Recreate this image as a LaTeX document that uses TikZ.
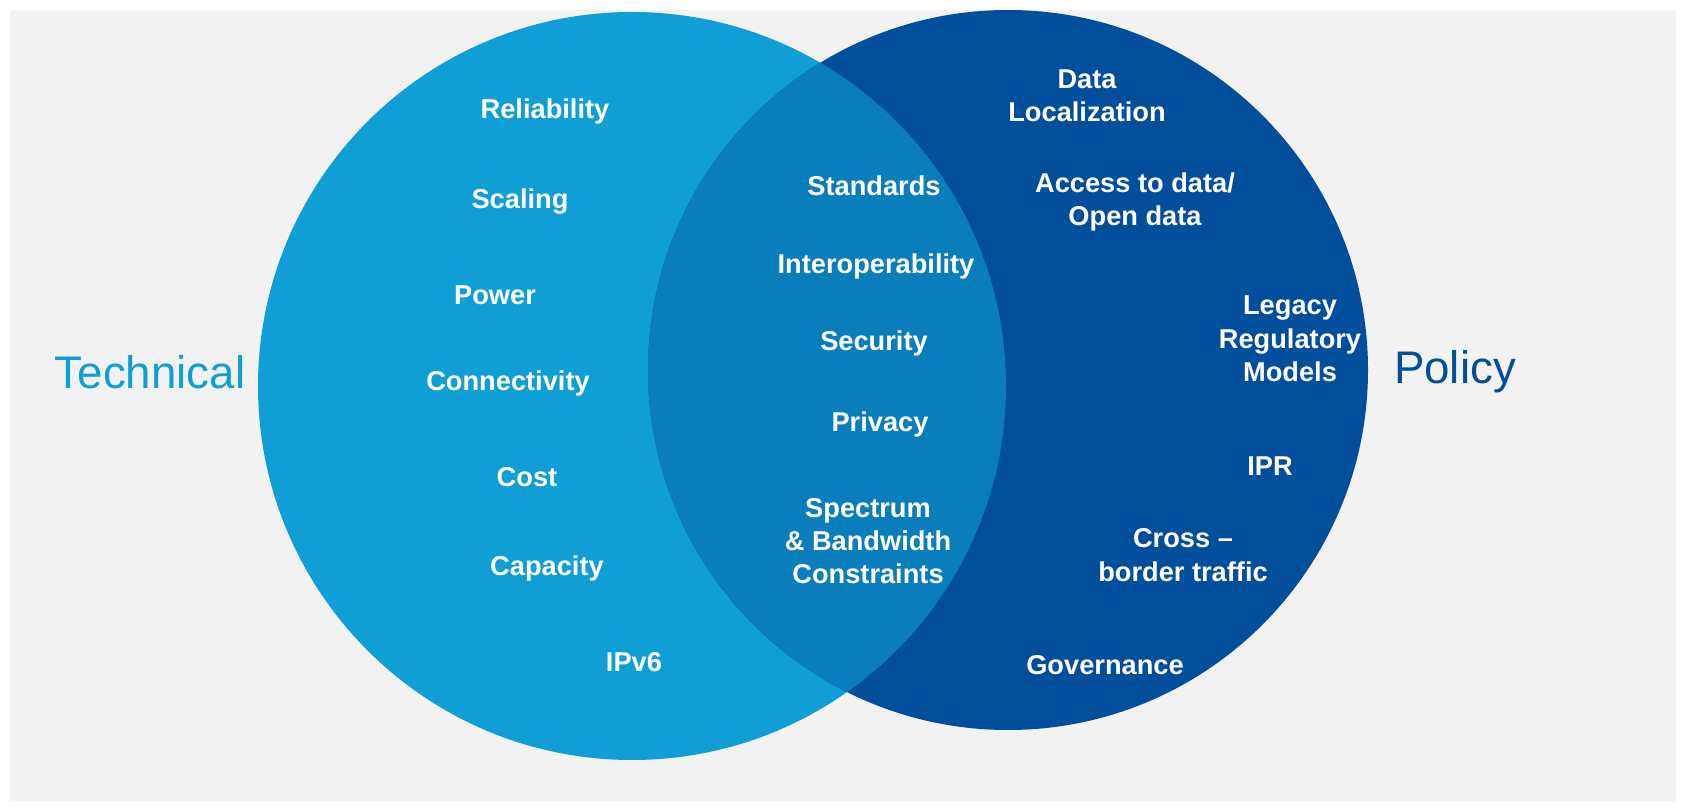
\documentclass[tikz,border=0pt]{standalone}
\usepackage{fontspec}
\setmainfont{Liberation Sans}
\begin{document}
\begin{tikzpicture}[x=0.02cm,y=-0.02cm,
  t/.style={text=white,font=\fontsize{15.5}{19}\selectfont\bfseries,align=center},
  big/.style={font=\fontsize{26}{30}\selectfont}]
\definecolor{lc}{HTML}{109ED6}
\definecolor{rc}{HTML}{004E9C}
\definecolor{mc}{HTML}{0A7DBD}
\useasboundingbox (0,0) rectangle (1686,811);
\fill[white] (0,0) rectangle (1686,811);
\fill[gray!10] (10,10) rectangle (1676,801);
\fill[lc] (632,386) circle (374);
\fill[rc] (1008,370) circle (360);
\begin{scope}
\clip (632,386) circle (374);
\fill[mc] (1008,370) circle (360);
\end{scope}
\node[big,text=lc] (tech) at (150,372) {Technical};
\node[big,text=rc] (pol) at (1455,372) {Policy};
\node[t] (a1) at (545,111) {Reliability};
\node[t] (a2) at (520,202) {Scaling};
\node[t] (a3) at (495,295) {Power};
\node[t] (a4) at (508,383) {Connectivity};
\node[t] (a5) at (527,477) {Cost};
\node[t] (a6) at (547,568) {Capacity};
\node[t] (a7) at (634,662) {IPv6};
\node[t] (b1) at (874,186) {Standards};
\node[t] (b2) at (876,266) {Interoperability};
\node[t] (b3) at (874,343) {Security};
\node[t] (b4) at (880,424) {Privacy};
\node[t] (b5) at (868,541) {Spectrum\\\& Bandwidth\\Constraints};
\node[t] (c1) at (1087,96) {Data\\Localization};
\node[t] (c2) at (1135,202) {Access to data/\\Open data};
\node[t] (c3) at (1290,339) {Legacy\\Regulatory\\Models};
\node[t] (c4) at (1270,466) {IPR};
\node[t] (c5) at (1183,555) {Cross --\\border traffic};
\node[t] (c6) at (1105,665) {Governance};
\end{tikzpicture}
\end{document}
